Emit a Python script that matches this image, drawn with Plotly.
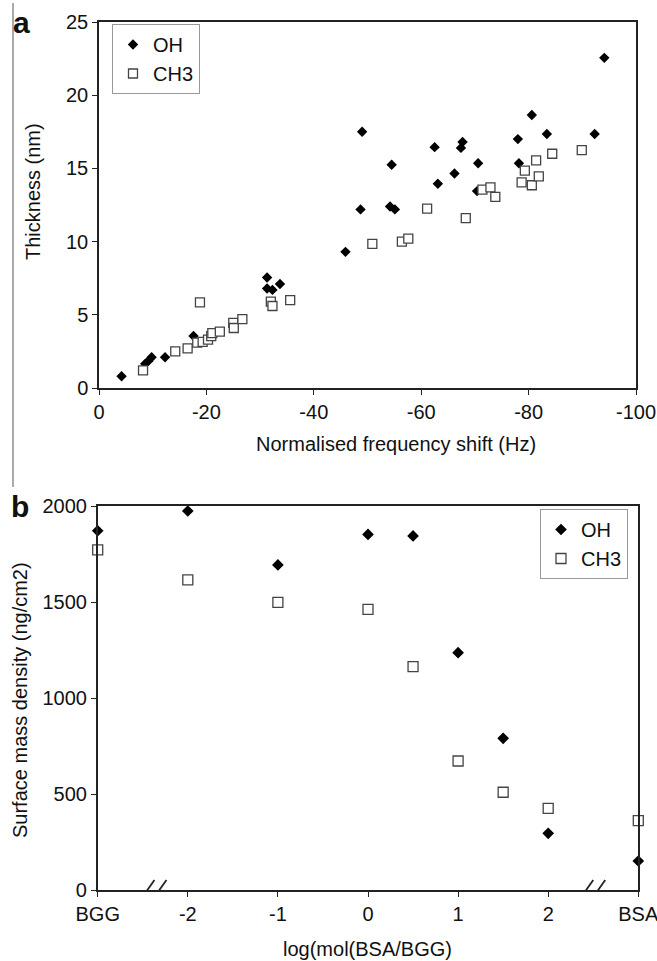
import plotly.graph_objects as go

# ---------------- Data: panel a ----------------
oh_shift = [-4.2, -8.6, -9.2, -9.8, -12.3, -17.6, -31.3, -31.3, -32.3, -33.7,
            -45.9, -48.7, -49.0, -54.2, -55.1, -54.5, -62.5, -63.1, -66.2, -67.4,
            -67.7, -70.4, -70.6, -78.0, -78.2, -80.6, -83.4, -92.3, -94.1]
oh_thick = [0.8, 1.65, 1.85, 2.1, 2.1, 3.55, 7.55, 6.8, 6.7, 7.1,
            9.3, 12.2, 17.5, 12.4, 12.2, 15.25, 16.45, 13.95, 14.65, 16.4,
            16.8, 13.45, 15.35, 17.0, 15.35, 18.65, 17.35, 17.35, 22.55]

ch3_shift = [-8.2, -14.2, -16.5, -18.3, -19.3, -20.3, -20.9, -21.1, -22.5, -25.0,
             -25.1, -26.7, -18.8, -32.0, -32.3, -35.6, -50.9, -56.4, -57.6, -61.1,
             -68.3, -71.4, -72.9, -73.8, -78.7, -79.3, -80.6, -81.4, -81.9, -84.4,
             -89.9]
ch3_thick = [1.2, 2.5, 2.7, 3.1, 3.15, 3.3, 3.55, 3.75, 3.85, 4.45,
             4.1, 4.7, 5.85, 5.9, 5.6, 6.0, 9.85, 10.0, 10.2, 12.25,
             11.6, 13.55, 13.7, 13.05, 14.05, 14.85, 13.85, 15.55, 14.45, 16.0,
             16.25]

a_xtick_vals = [0, -20, -40, -60, -80, -100]
a_xtick_text = ["0", "-20", "-40", "-60", "-80", "-100"]
a_ytick_vals = [0, 5, 10, 15, 20, 25]

# ---------------- Data: panel b ----------------
b_x = [-3, -2, -1, 0, 0.5, 1, 1.5, 2, 3]          # BGG=-3, BSA=3 (beyond breaks)
oh_density = [1871, 1974, 1693, 1852, 1844, 1236, 790, 295, 151]
ch3_density = [1771, 1615, 1498, 1462, 1163, 672, 509, 425, 361]

b_xtick_vals = [-3, -2, -1, 0, 1, 2, 3]
b_xtick_text = ["BGG", "-2", "-1", "0", "1", "2", "BSA"]
b_ytick_vals = [0, 500, 1000, 1500, 2000]

# ---------------- Layout helpers ----------------
W, H = 657, 961
def fx(p):
    return p / W
def fy(p):
    return 1 - p / H

FONT = "Liberation Sans, Arial, Helvetica, sans-serif"
AX = "#222222"

oh_marker = dict(symbol="diamond", size=8, color="black", line=dict(width=0))
ch3_marker = dict(symbol="square", size=9, color="white", line=dict(color="#444444", width=1.3))

fig = go.Figure()
fig.add_trace(go.Scatter(x=oh_shift, y=oh_thick, mode="markers", name="OH",
                         marker=oh_marker, xaxis="x", yaxis="y", legend="legend"))
fig.add_trace(go.Scatter(x=ch3_shift, y=ch3_thick, mode="markers", name="CH3",
                         marker=ch3_marker, xaxis="x", yaxis="y", legend="legend"))
fig.add_trace(go.Scatter(x=b_x, y=oh_density, mode="markers", name="OH",
                         marker=dict(oh_marker, size=9), xaxis="x2", yaxis="y2", legend="legend2",
                         cliponaxis=False))
fig.add_trace(go.Scatter(x=b_x, y=ch3_density, mode="markers", name="CH3",
                         marker=dict(ch3_marker, size=10), xaxis="x2", yaxis="y2", legend="legend2",
                         cliponaxis=False))

axis_common = dict(showgrid=False, zeroline=False, showline=True, linecolor=AX, linewidth=1.5,
                   mirror=True, ticks="outside", ticklen=5, tickwidth=1.3, tickcolor=AX,
                   automargin=False, ticklabeloverflow="allow",
                   tickfont=dict(family=FONT, size=20, color="#111"))

legend_common = dict(bordercolor="#999999", borderwidth=1, bgcolor="white",
                     font=dict(family=FONT, size=20, color="#111"), itemwidth=30,
                     tracegroupgap=0)

fig.update_layout(
    width=W, height=H,
    margin=dict(l=0, r=0, t=0, b=0, pad=0, autoexpand=False),
    paper_bgcolor="white", plot_bgcolor="white",
    font=dict(family=FONT, size=20, color="#111"),
    xaxis=dict(axis_common, domain=[fx(99), fx(636)], range=[0, -100], anchor="y",
               tickmode="array", tickvals=a_xtick_vals, ticktext=a_xtick_text),
    yaxis=dict(axis_common, domain=[fy(388), fy(22)], range=[0, 25], anchor="x",
               tickmode="array", tickvals=a_ytick_vals),
    xaxis2=dict(axis_common, domain=[fx(97.7), fx(638.3)], range=[-3, 3], anchor="y2",
                tickmode="array", tickvals=b_xtick_vals, ticktext=b_xtick_text),
    yaxis2=dict(axis_common, domain=[fy(890), fy(506)], range=[0, 2000], anchor="x2",
                tickmode="array", tickvals=b_ytick_vals),
    legend=dict(legend_common, x=fx(112), y=fy(24), xanchor="left", yanchor="top"),
    legend2=dict(legend_common, x=fx(628), y=fy(509), xanchor="right", yanchor="top"),
    showlegend=True,
)

ann = []
def add_text(text, x, y, angle=0, size=20, bold=False):
    ann.append(dict(text=("<b>%s</b>" % text) if bold else text, x=fx(x), y=fy(y),
                    xref="paper", yref="paper", showarrow=False, textangle=angle,
                    xanchor="center", yanchor="middle",
                    font=dict(family=FONT, size=size, color="#111")))

add_text("Thickness (nm)", 33, 192, angle=-90)
add_text("Normalised frequency shift (Hz)", 396, 444)
add_text("Surface mass density (ng/cm2)", 20, 700, angle=-90)
add_text("log(mol(BSA/BGG)", 367, 949)
add_text("a", 21, 22, size=30, bold=True)
add_text("b", 20, 506, size=30, bold=True)
fig.update_layout(annotations=ann)

shapes = []
# thin vertical frame line at far left of the figure
shapes.append(dict(type="line", xref="paper", yref="paper", x0=fx(13), x1=fx(13),
                   y0=fy(3), y1=fy(487), line=dict(color="#555555", width=1)))
# axis break marks on panel b x axis
for bx in [-2.37, 2.5]:
    for off in [-12, 0]:
        shapes.append(dict(type="line", xref="x2", yref="y2", xsizemode="pixel", ysizemode="pixel",
                           xanchor=bx, yanchor=0, x0=off, x1=off + 12, y0=-7, y1=10,
                           line=dict(color=AX, width=1.8)))
fig.update_layout(shapes=shapes)

fig.write_html("out.html", config={"displayModeBar": False},
               post_script="document.body.style.margin='0';document.body.style.overflow='hidden';")
